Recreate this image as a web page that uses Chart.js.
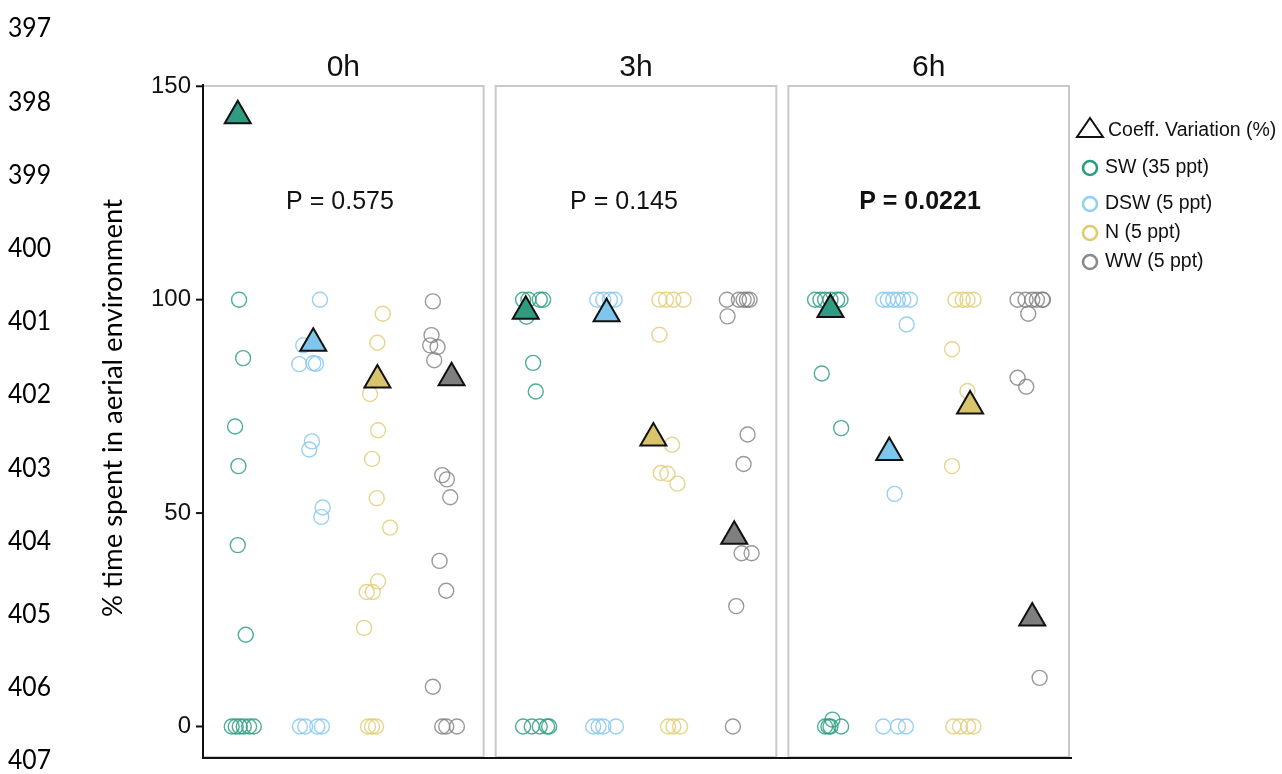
<!DOCTYPE html>
<html>
<head>
<meta charset="utf-8">
<script src="https://cdn.jsdelivr.net/npm/chart.js@4.4.1/dist/chart.umd.min.js"></script>
<style>
  html, body { margin: 0; padding: 0; background: #fff; overflow: hidden; }
  #wrap { width: 1282px; height: 774px; }
</style>
</head>
<body>
<div id="wrap"><canvas id="chart" width="1282" height="774"></canvas></div>
<script>
// panels (time points) and groups
const PANELS = ['0h', '3h', '6h'];
const GROUPS = ['SW (35 ppt)', 'DSW (5 ppt)', 'N (5 ppt)', 'WW (5 ppt)'];
const P_VALUES = ['P = 0.575', 'P = 0.145', 'P = 0.0221'];
const P_BOLD = [false, false, true];
const P_POS = [2.45, 2.32, 2.37];
const Y_TICKS = [0, 50, 100, 150];
const LINE_NUMBERS = ['397', '398', '399', '400', '401', '402', '403', '404', '405', '406', '407'];

// individual points: [position inside panel (category units, jittered), % time]
const SW_PTS = [
    [[0.94, 100], [1.00, 86.3], [0.88, 70.3], [0.93, 61.0], [0.92, 42.5], [1.04, 21.5],
     [0.83, 0], [0.89, 0], [0.95, 0], [1.01, 0], [1.09, 0], [1.16, 0]],
    [[0.81, 100], [0.89, 100], [1.06, 100], [1.11, 100], [0.86, 96], [0.96, 85.2], [1.00, 78.5],
     [0.81, 0], [0.94, 0], [1.06, 0], [1.17, 0], [1.20, 0]],
    [[0.80, 100], [0.88, 100], [0.95, 100], [1.03, 100], [1.13, 100], [1.18, 100], [0.90, 82.7], [1.19, 69.9],
     [0.95, 0], [1.00, 0], [1.03, 0], [1.19, 0], [1.06, 1.6]]
];
const DSW_PTS = [
    [[2.15, 100], [1.90, 89.3], [1.84, 84.9], [2.05, 85.1], [2.09, 85.0], [2.03, 66.8], [1.99, 64.9],
     [2.19, 51.3], [2.17, 49.1], [1.85, 0], [1.93, 0], [2.11, 0], [2.18, 0]],
    [[1.92, 100], [2.01, 100], [2.11, 100], [2.18, 100], [1.86, 0], [1.94, 0], [2.01, 0], [2.20, 0]],
    [[1.82, 100], [1.89, 100], [1.97, 100], [2.04, 100], [2.12, 100], [2.22, 100], [2.17, 94.2], [1.99, 54.5],
     [1.82, 0], [2.04, 0], [2.16, 0]]
];
const N_PTS = [
    [[3.09, 96.7], [3.01, 89.9], [2.90, 77.9], [3.02, 69.4], [2.93, 62.7], [3.00, 53.5], [3.20, 46.6],
     [3.02, 34.0], [2.85, 31.5], [2.94, 31.5], [2.81, 23.1], [2.87, 0], [2.93, 0], [2.99, 0]],
    [[2.85, 100], [2.95, 100], [3.06, 100], [3.21, 100], [2.85, 91.8], [3.04, 66.0], [2.87, 59.4],
     [2.97, 59.2], [3.12, 56.9], [2.98, 0], [3.06, 0], [3.16, 0]],
    [[2.90, 100], [3.01, 100], [3.08, 100], [3.17, 100], [2.85, 88.4], [3.08, 78.6], [2.85, 61.0],
     [2.87, 0], [2.97, 0], [3.09, 0], [3.17, 0]]
];
const WW_PTS = [
    [[3.84, 99.6], [3.82, 91.7], [3.80, 89.3], [3.91, 88.9], [3.86, 85.8], [3.98, 58.9], [4.05, 57.9],
     [4.10, 53.7], [3.94, 38.8], [4.04, 31.8], [3.84, 9.3], [3.98, 0], [4.04, 0], [4.20, 0]],
    [[3.86, 100], [4.04, 100], [4.11, 100], [4.16, 100], [4.20, 100], [3.87, 96.1], [4.17, 68.4],
     [4.11, 61.5], [4.08, 40.6], [4.23, 40.6], [4.00, 28.2], [3.95, 0]],
    [[3.83, 100], [3.95, 100], [4.05, 100], [4.12, 100], [4.20, 100], [4.21, 100], [3.99, 96.7],
     [3.83, 81.7], [3.96, 79.6], [4.16, 11.4]]
];

// coefficient of variation (%) per group, one per panel
const SW_CV = [[0.92, 143.1], [0.85, 97.3], [1.03, 97.7]];
const DSW_CV = [[2.05, 89.8], [2.06, 96.7], [1.91, 64.2]];
const N_CV = [[3.01, 81.2], [2.76, 67.6], [3.12, 75.1]];
const WW_CV = [[4.12, 81.7], [3.97, 44.6], [4.05, 25.4]];

const CIRCLE_COLORS = ['rgba(48,160,132,0.85)', 'rgba(135,200,240,0.85)', 'rgba(226,206,120,0.85)', 'rgba(128,128,128,0.8)'];
const TRI_COLORS = ['#2f9c82', '#7ec6ee', '#d8c46c', '#7f7f7f'];
const LEGEND_COLORS = ['#2a9d7f', '#91d0f4', '#e0ca6c', '#8a8a8a'];

const PANEL_STEP = 4.38;   // panel width (4.2) + gap between panels
const X_MIN = 0.4;
const X_MAX = 4.6 + 2 * PANEL_STEP;
const Y_MIN = -7.15;
const Y_MAX = 150.3;

const FONT = '"Liberation Sans", Arial, sans-serif';

function toXY(perPanel) {
    const out = [];
    perPanel.forEach((pts, p) => {
        pts.forEach(([x, y]) => out.push({ x: x + p * PANEL_STEP, y: y }));
    });
    return out;
}

const allPts = [SW_PTS, DSW_PTS, N_PTS, WW_PTS];
const allCv = [SW_CV, DSW_CV, N_CV, WW_CV];

const datasets = [];
allCv.forEach((cv, i) => {
    datasets.push({
        label: 'CV ' + GROUPS[i],
        data: toXY(cv.map(c => [c])),
        pointStyle: 'triangle',
        pointRadius: 15,
        pointBackgroundColor: TRI_COLORS[i],
        pointBorderColor: '#111',
        pointBorderWidth: 2,
        showLine: false,
        clip: false,
        order: 0
    });
});
allPts.forEach((pts, i) => {
    datasets.push({
        label: GROUPS[i],
        data: toXY(pts),
        pointStyle: 'circle',
        pointRadius: 7.5,
        pointBackgroundColor: 'rgba(0,0,0,0)',
        pointBorderColor: CIRCLE_COLORS[i],
        pointBorderWidth: 1.4,
        showLine: false,
        clip: false,
        order: 1
    });
});

function fitText(ctx, text, x, y, font, width, align) {
    ctx.font = font;
    const w = ctx.measureText(text).width;
    const s = width ? width / w : 1;
    ctx.save();
    ctx.translate(x, y);
    ctx.scale(s, 1);
    ctx.textAlign = align || 'left';
    ctx.fillText(text, 0, 0);
    ctx.restore();
}

const decorations = {
    id: 'decorations',
    beforeDatasetsDraw(chart) {
        const ctx = chart.ctx;
        const xs = chart.scales.x;
        const area = chart.chartArea;
        ctx.save();
        // panel frames
        ctx.strokeStyle = '#c9c9c9';
        ctx.lineWidth = 2;
        PANELS.forEach((name, p) => {
            const l = xs.getPixelForValue(0.4 + p * PANEL_STEP);
            const r = xs.getPixelForValue(4.6 + p * PANEL_STEP);
            ctx.strokeRect(l, area.top + 1, r - l, area.bottom - area.top - 1);
        });
        ctx.restore();
    },
    afterDraw(chart) {
        const ctx = chart.ctx;
        const xs = chart.scales.x;
        const ys = chart.scales.y;
        const area = chart.chartArea;
        ctx.save();

        // axes lines
        ctx.strokeStyle = '#111';
        ctx.lineWidth = 2;
        ctx.beginPath();
        ctx.moveTo(area.left, area.top - 1);
        ctx.lineTo(area.left, area.bottom + 1);
        ctx.lineTo(area.right + 3, area.bottom + 1);
        ctx.stroke();

        // y ticks
        ctx.fillStyle = '#111';
        ctx.textBaseline = 'middle';
        Y_TICKS.forEach(t => {
            const y = ys.getPixelForValue(t);
            ctx.beginPath();
            ctx.moveTo(area.left - 7, y);
            ctx.lineTo(area.left, y);
            ctx.stroke();
            ctx.font = '24px ' + FONT;
            ctx.textAlign = 'right';
            ctx.fillText(String(t), area.left - 12, y);
        });

        // y title
        ctx.save();
        ctx.translate(122, 408);
        ctx.rotate(-Math.PI / 2);
        ctx.textBaseline = 'alphabetic';
        ctx.fillStyle = '#000';
        fitText(ctx, '% time spent in aerial environment', 0, 0, '26px Lato, "Open Sans", sans-serif', 418, 'center');
        ctx.restore();

        // strip titles and P values
        PANELS.forEach((name, p) => {
            const l = xs.getPixelForValue(0.4 + p * PANEL_STEP);
            const r = xs.getPixelForValue(4.6 + p * PANEL_STEP);
            ctx.textBaseline = 'middle';
            ctx.textAlign = 'center';
            ctx.font = '30px ' + FONT;
            ctx.fillText(name, (l + r) / 2, 68);
            ctx.font = (P_BOLD[p] ? 'bold ' : '') + '25px ' + FONT;
            ctx.fillText(P_VALUES[p], xs.getPixelForValue(P_POS[p] + p * PANEL_STEP), ys.getPixelForValue(122.8));
        });

        // legend
        ctx.strokeStyle = '#111';
        ctx.lineWidth = 2;
        ctx.beginPath();
        ctx.moveTo(1090, 118);
        ctx.lineTo(1103, 137);
        ctx.lineTo(1077, 137);
        ctx.closePath();
        ctx.stroke();
        ctx.textBaseline = 'middle';
        ctx.textAlign = 'left';
        ctx.font = '19.5px ' + FONT;
        ctx.fillText('Coeff. Variation (%)', 1108, 131);
        const legY = [168, 204, 233, 262];
        GROUPS.forEach((g, i) => {
            ctx.beginPath();
            ctx.arc(1090, legY[i], 7, 0, Math.PI * 2);
            ctx.strokeStyle = LEGEND_COLORS[i];
            ctx.lineWidth = 2.6;
            ctx.stroke();
            ctx.font = '19.5px ' + FONT;
            ctx.fillStyle = '#111';
            ctx.fillText(g, 1105, legY[i]);
        });

        // manuscript line numbers
        ctx.fillStyle = '#000';
        ctx.textAlign = 'left';
        LINE_NUMBERS.forEach((n, i) => {
            fitText(ctx, n, 8, 29 + i * 73.2, '26px Lato, "Open Sans", sans-serif', 43, 'left');
        });

        ctx.restore();
    }
};

new Chart(document.getElementById('chart').getContext('2d'), {
    type: 'scatter',
    data: { datasets: datasets },
    options: {
        responsive: false,
        animation: false,
        layout: { padding: { left: 203, top: 85, right: 213, bottom: 14 } },
        scales: {
            x: { type: 'linear', min: X_MIN, max: X_MAX, display: false },
            y: { type: 'linear', min: Y_MIN, max: Y_MAX, display: false }
        },
        plugins: {
            legend: { display: false },
            tooltip: { enabled: false }
        }
    },
    plugins: [decorations]
});
</script>
</body>
</html>
